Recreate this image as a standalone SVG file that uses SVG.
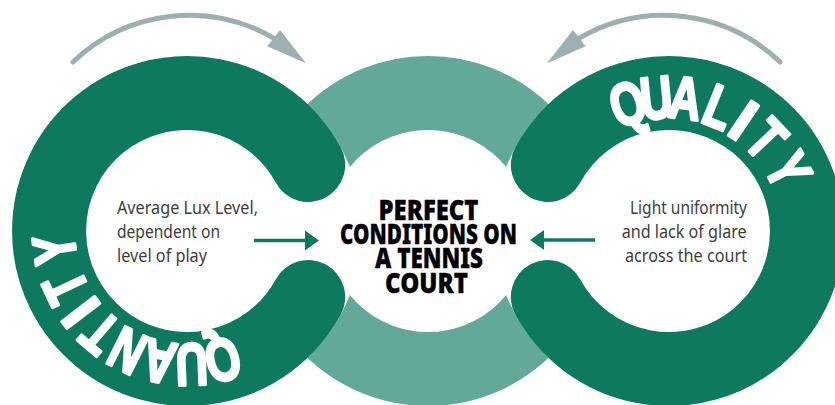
<svg xmlns="http://www.w3.org/2000/svg" width="835" height="405" viewBox="0 0 835 405">
<style>
.ring{fill:none;stroke:#0d7a5f;stroke-width:74;stroke-linecap:round}
.light{fill:none;stroke:#62a99a;stroke-width:74}
.lbl{font-family:"Noto Sans","Liberation Sans",Arial,sans-serif;font-size:18px;fill:#3d3d3d}
.title{font-family:"Noto Sans","Liberation Sans",Arial,sans-serif;font-weight:900;font-size:28px;fill:#000;stroke:#000;stroke-width:0.3;text-anchor:middle}
.ltr{font-family:"Liberation Sans",Arial,sans-serif;font-weight:bold;font-size:60px;fill:#fff;stroke:#fff;stroke-width:3;stroke-linejoin:round;text-anchor:middle}
.gray{fill:none;stroke:#9cafb1;stroke-width:5;stroke-linecap:round}
.grayhead{fill:#9cafb1}
.green{fill:none;stroke:#0d7a5f;stroke-width:3.3}
</style>
<defs>
<mask id="cut" maskUnits="userSpaceOnUse" x="0" y="0" width="835" height="405">
<rect width="835" height="405" fill="#fff"/>
<circle cx="187" cy="231" r="175" fill="#000"/>
<circle cx="669" cy="231" r="175" fill="#000"/>
</mask>
<marker id="gArrow" markerUnits="userSpaceOnUse" viewBox="0 -11 16 22" refX="0" refY="0" markerWidth="16" markerHeight="22" orient="auto">
<path d="M0,-10 L14,0 L0,10 Z" fill="#0d7a5f"/>
</marker>
<path id="grayHead" d="M0,0 L-41,-10.3 L-41,10.3 Z"/>
</defs>

<g id="center-ring">
<circle class="light" cx="428" cy="231" r="138" mask="url(#cut)"/>
</g>

<g id="quantity">
<path class="ring" d="M308.2,164.9 A138,138 0 1 0 308.2,297.1"/>
<g id="quantity-word">
<text class="ltr" transform="translate(217.2,339.9) rotate(164.5) scale(0.74,1)">Q</text>
<text class="ltr" transform="translate(190.9,343.9) rotate(178) scale(0.74,1)">U</text>
<text class="ltr" transform="translate(163.5,341.5) rotate(192) scale(0.74,1)">A</text>
<text class="ltr" transform="translate(136.6,332.1) rotate(206.5) scale(0.74,1)">N</text>
<text class="ltr" transform="translate(113.6,316.9) rotate(220.5) scale(0.74,1)">T</text>
<text class="ltr" transform="translate(97.3,299.8) rotate(232.5) scale(1,1)">I</text>
<text class="ltr" transform="translate(84.6,278.8) rotate(245) scale(0.74,1)">T</text>
<text class="ltr" transform="translate(75.1,246.7) rotate(262) scale(0.74,1)">Y</text>
</g>
<text class="lbl"><tspan x="117" y="213.5" textLength="141" lengthAdjust="spacingAndGlyphs">Average Lux Level,</tspan><tspan x="117" y="237.5" textLength="103" lengthAdjust="spacingAndGlyphs">dependent on</tspan><tspan x="117" y="261.5" textLength="90" lengthAdjust="spacingAndGlyphs">level of play</tspan></text>
</g>

<g id="quality">
<path class="ring" d="M547.8,164.9 A138,138 0 1 1 547.8,297.1"/>
<g id="quality-word">
<text class="ltr" transform="translate(634.1,123.5) rotate(-18) scale(0.74,1)">Q</text>
<text class="ltr" transform="translate(658.2,118.5) rotate(-5.5) scale(0.74,1)">U</text>
<text class="ltr" transform="translate(682.8,118.8) rotate(7) scale(0.74,1)">A</text>
<text class="ltr" transform="translate(711.6,126.4) rotate(22) scale(0.74,1)">L</text>
<text class="ltr" transform="translate(732.0,137.6) rotate(34) scale(1,1)">I</text>
<text class="ltr" transform="translate(751.0,153.3) rotate(46.5) scale(0.74,1)">T</text>
<text class="ltr" transform="translate(769.7,179.7) rotate(63) scale(0.74,1)">Y</text>
</g>
<text class="lbl"><tspan x="630" y="213.5" textLength="117" lengthAdjust="spacingAndGlyphs">Light uniformity</tspan><tspan x="621.7" y="237.5" textLength="125" lengthAdjust="spacingAndGlyphs">and lack of glare</tspan><tspan x="625" y="261.5" textLength="122" lengthAdjust="spacingAndGlyphs">across the court</tspan></text>
</g>

<g id="perfect-conditions">
<text class="title"><tspan x="428.5" y="219.5" textLength="100" lengthAdjust="spacingAndGlyphs">PERFECT</tspan><tspan x="428.5" y="243.5" textLength="177" lengthAdjust="spacingAndGlyphs">CONDITIONS ON</tspan><tspan x="429" y="268" textLength="108" lengthAdjust="spacingAndGlyphs">A TENNIS</tspan><tspan x="426.5" y="292.5" textLength="83" lengthAdjust="spacingAndGlyphs">COURT</tspan></text>
</g>

<g id="connectors">
<path class="gray" d="M73,62 A168,168 0 0 1 273.7,38.1"/>
<use href="#grayHead" class="grayhead" transform="translate(306,63.3) rotate(37.9)"/>
<path class="gray" d="M780,62 A168,168 0 0 0 579.3,38.1"/>
<use href="#grayHead" class="grayhead" transform="translate(547,63.3) rotate(142.1)"/>
<path class="green" d="M254,240.5 H305" marker-end="url(#gArrow)"/>
<path class="green" d="M595,240 H544" marker-end="url(#gArrow)"/>
</g>
</svg>
